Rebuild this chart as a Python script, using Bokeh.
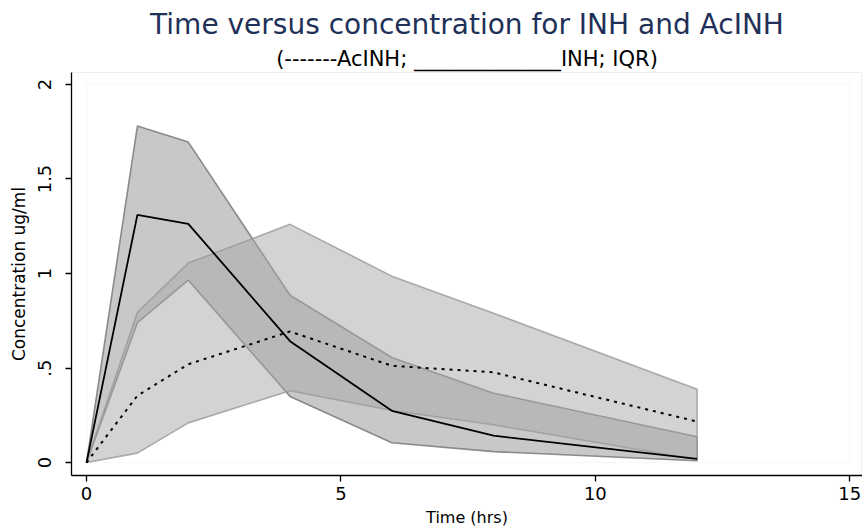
from bokeh.plotting import figure
from bokeh.models import Range1d, FixedTicker, Title, BoxAnnotation
from bokeh.embed import file_html
from bokeh.resources import INLINE

# ---- data ----
time_hrs = [0, 1, 2, 4, 6, 8, 12]
inh_median = [0, 1.31, 1.263, 0.642, 0.274, 0.142, 0.02]
inh_q1 = [0, 0.74, 0.965, 0.35, 0.105, 0.058, 0.01]
inh_q3 = [0, 1.78, 1.695, 0.885, 0.556, 0.367, 0.137]
acinh_median = [0, 0.354, 0.52, 0.693, 0.512, 0.477, 0.217]
acinh_q1 = [0, 0.05, 0.21, 0.38, 0.275, 0.2, 0.015]
acinh_q3 = [0, 0.795, 1.055, 1.26, 0.986, 0.79, 0.388]
x_ticks = [0, 5, 10, 15]
y_ticks = [0, 0.5, 1, 1.5, 2]
y_tick_labels = {0.5: ".5"}

title_text = "Time versus concentration for INH and AcINH"
subtitle_text = "(-------AcINH; ______________INH; IQR)"
x_title = "Time (hrs)"
y_title = "Concentration ug/ml"

FONT = "DejaVu Sans"

p = figure(width=862, height=529, output_backend="svg", toolbar_location=None,
           x_range=Range1d(-0.295, 15.25), y_range=Range1d(-0.0684, 2.0632),
           min_border_left=71, min_border_right=0, min_border_top=72, min_border_bottom=52,
           background_fill_color="white", border_fill_color="white")
p.outline_line_color = "#e9f0f1"
p.grid.visible = False

# main title (outer) and subtitle (closest to the frame)
p.title.text = title_text
p.title.align = "center"
p.title.text_font = FONT
p.title.text_font_size = "28px"
p.title.text_font_style = "normal"
p.title.text_color = "#1f3158"
p.title.standoff = 4
p.title.offset = 0
p.add_layout(Title(text=subtitle_text, align="center", text_font=FONT, text_font_size="21px",
                   text_font_style="normal", text_color="black", standoff=4), "above")

# inner plot-region box
p.add_layout(BoxAnnotation(left=x_ticks[0], right=x_ticks[-1], bottom=y_ticks[0], top=y_ticks[-1],
                           fill_alpha=0, line_color="#e2eced", line_width=1.2, level="underlay"))

# IQR bands
p.patch(time_hrs + time_hrs[::-1], inh_q3 + inh_q1[::-1],
        fill_color="#919191", fill_alpha=0.5, line_color="#7a7a7a", line_alpha=0.85, line_width=1.6)
p.patch(time_hrs + time_hrs[::-1], acinh_q3 + acinh_q1[::-1],
        fill_color="#a8a8a8", fill_alpha=0.5, line_color="#9a9a9a", line_alpha=0.8, line_width=1.6)

# medians
p.line(time_hrs, inh_median, line_color="black", line_width=1.8)
p.line(time_hrs, acinh_median, line_color="black", line_width=2, line_dash="3 5")

# axes
for ax in (p.xaxis[0], p.yaxis[0]):
    ax.axis_line_color = "black"
    ax.axis_line_width = 1.3
    ax.major_tick_line_color = "black"
    ax.major_tick_line_width = 1.3
    ax.major_tick_in = 0
    ax.major_tick_out = 6
    ax.minor_tick_line_color = None
    ax.major_label_text_font = FONT
    ax.major_label_text_font_size = "18px"
    ax.major_label_text_color = "black"
    ax.axis_label_text_font = FONT
    ax.axis_label_text_font_style = "normal"
    ax.axis_label_text_color = "black"

p.xaxis.ticker = FixedTicker(ticks=x_ticks)
p.yaxis.ticker = FixedTicker(ticks=y_ticks)
p.yaxis.major_label_overrides = y_tick_labels
p.yaxis.major_label_orientation = "vertical"
p.xaxis.axis_label = x_title
p.yaxis.axis_label = y_title
p.xaxis.axis_label_text_font_size = "16px"
p.yaxis.axis_label_text_font_size = "17px"
p.xaxis.major_label_standoff = 5
p.xaxis.axis_label_standoff = 5
p.yaxis.major_label_standoff = 14
p.yaxis.axis_label_standoff = 7

open("out.html", "w").write(file_html(p, INLINE))
